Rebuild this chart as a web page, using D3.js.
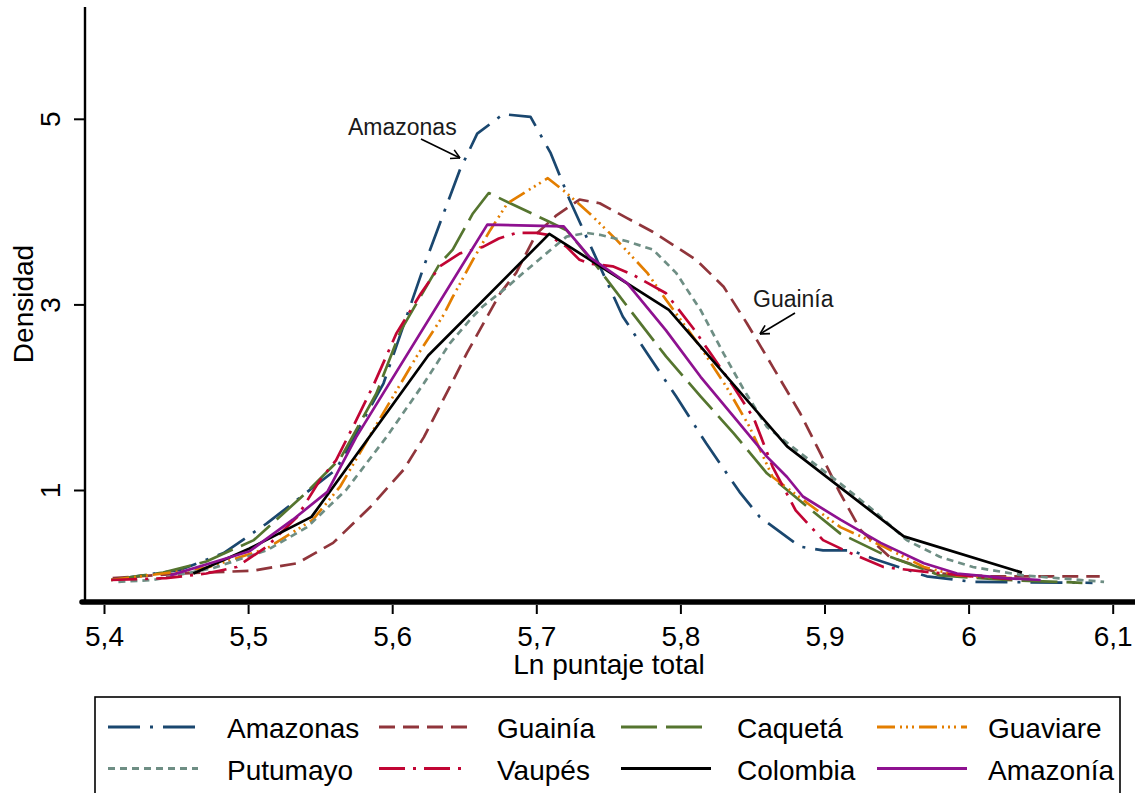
<!DOCTYPE html>
<html><head><meta charset="utf-8">
<script src="https://cdn.jsdelivr.net/npm/d3@7"></script>
<style>
body{margin:0;background:#fff}
svg{display:block}
text{font-family:"Liberation Sans",Arial,Helvetica,sans-serif}
</style>
</head><body>
<svg id="chart" width="1135" height="793"></svg>
<script>
// ---------- data ----------
const seriesNames = ["Amazonas","Guainía","Caquetá","Guaviare","Putumayo","Vaupés","Colombia","Amazonía"];
const xTickValues = [5.4,5.5,5.6,5.7,5.8,5.9,6.0,6.1];
const xTickLabels = ["5,4","5,5","5,6","5,7","5,8","5,9","6","6,1"];
const yTickValues = [1,3,5];
const yTickLabels = ["1","3","5"];

const amazonasX = [5.405,5.453,5.483,5.513,5.561,5.594,5.622,5.633,5.647,5.659,5.677,5.696,5.710,5.723,5.740,5.760,5.777,5.797,5.818,5.841,5.855,5.883,5.899,5.918,5.934,5.971,6.003,6.086];
const amazonasY = [0.03,0.14,0.32,0.64,1.22,2.15,3.41,3.87,4.45,4.84,5.05,5.02,4.63,4.13,3.55,2.87,2.47,2.01,1.50,0.98,0.71,0.39,0.35,0.35,0.26,0.07,0.01,0.0];

const guainiaX = [5.406,5.453,5.503,5.534,5.559,5.585,5.608,5.622,5.640,5.652,5.666,5.675,5.686,5.693,5.700,5.714,5.730,5.744,5.763,5.781,5.790,5.811,5.830,5.846,5.864,5.883,5.897,5.911,5.925,5.945,5.980,6.015,6.091];
const guainiaY = [0.05,0.10,0.13,0.21,0.43,0.82,1.22,1.57,2.11,2.48,2.87,3.12,3.34,3.55,3.76,3.96,4.13,4.09,3.93,3.78,3.69,3.48,3.19,2.80,2.33,1.83,1.40,0.96,0.57,0.28,0.10,0.07,0.07];

const caquetaX = [5.405,5.441,5.471,5.504,5.541,5.564,5.589,5.606,5.633,5.642,5.656,5.667,5.709,5.721,5.742,5.767,5.790,5.814,5.837,5.860,5.888,5.911,5.939,5.980,6.026,6.079];
const caquetaY = [0.03,0.11,0.23,0.46,0.98,1.34,2.04,2.72,3.44,3.59,3.98,4.20,3.89,3.80,3.41,2.90,2.44,2.01,1.61,1.18,0.82,0.53,0.32,0.08,0.03,0.0];

const guaviareX = [5.405,5.471,5.513,5.545,5.564,5.587,5.617,5.635,5.642,5.656,5.668,5.680,5.708,5.721,5.737,5.756,5.777,5.790,5.814,5.832,5.848,5.864,5.888,5.911,5.941,5.969,5.992,6.030];
const guaviareY = [0.03,0.16,0.37,0.68,1.04,1.65,2.44,2.87,3.08,3.48,3.80,4.09,4.36,4.20,3.98,3.69,3.34,3.05,2.54,2.11,1.68,1.14,0.86,0.60,0.39,0.17,0.08,0.05];

const putumayoX = [5.410,5.434,5.476,5.513,5.541,5.568,5.596,5.622,5.640,5.656,5.663,5.680,5.691,5.707,5.721,5.735,5.744,5.763,5.781,5.797,5.814,5.830,5.844,5.860,5.883,5.911,5.934,5.957,5.980,6.003,6.038,6.094];
const putumayoY = [0.01,0.03,0.16,0.35,0.60,1.00,1.57,2.15,2.58,2.87,2.98,3.19,3.34,3.55,3.73,3.77,3.75,3.68,3.59,3.34,2.94,2.47,2.08,1.68,1.40,1.07,0.78,0.46,0.28,0.17,0.08,0.01];

const vaupesX = [5.405,5.443,5.471,5.492,5.513,5.534,5.550,5.561,5.575,5.587,5.603,5.620,5.633,5.647,5.663,5.674,5.686,5.700,5.708,5.721,5.730,5.737,5.753,5.767,5.790,5.809,5.821,5.837,5.851,5.864,5.880,5.899,5.918,5.941,5.969,6.003,6.030];
const vaupesY = [0.03,0.05,0.10,0.17,0.39,0.71,1.11,1.32,1.75,2.13,2.69,3.12,3.41,3.55,3.62,3.71,3.77,3.77,3.75,3.62,3.48,3.44,3.41,3.32,3.12,2.74,2.47,2.11,1.77,1.25,0.78,0.46,0.32,0.17,0.12,0.07,0.04];

const colombiaX = [5.462,5.501,5.544,5.625,5.709,5.792,5.874,5.955,6.037];
const colombiaY = [0.10,0.37,0.71,2.45,3.76,2.94,1.47,0.50,0.11];

const amazoniaX = [5.446,5.480,5.501,5.531,5.555,5.575,5.666,5.719,5.737,5.763,5.790,5.814,5.837,5.860,5.874,5.885,5.911,5.939,5.969,5.992,6.026,6.050];
const amazoniaY = [0.08,0.24,0.34,0.68,0.98,1.57,3.86,3.84,3.51,3.23,2.72,2.22,1.79,1.36,1.14,0.93,0.68,0.43,0.21,0.10,0.05,0.03];

const annotationLabels = ["Amazonas","Guainía"];

// ---------- styles ----------
const seriesX = [amazonasX,guainiaX,caquetaX,guaviareX,putumayoX,vaupesX,colombiaX,amazoniaX];
const seriesY = [amazonasY,guainiaY,caquetaY,guaviareY,putumayoY,vaupesY,colombiaY,amazoniaY];
const colors = ["#1a476f","#90353b","#55752f","#e37e00","#6e8e84","#c10534","#000000","#8e1190"];
const dashes = ["32,10,3,10","16,8","36,9","18,5,2,4,2,4,2,5","7,5","26,8,3,8",null,null];

// ---------- layout ----------
const svg = d3.select("#chart");
const x = d3.scaleLinear().domain([5.4, 6.1]).range([104, 1112.7]);
const y = d3.scaleLinear().domain([0, 5]).range([582.8, 118.8]);
const FONT = 28;

// axis lines
svg.append("line").attr("x1",85).attr("x2",85).attr("y1",7).attr("y2",602)
  .attr("stroke","#000").attr("stroke-width",2.4);
svg.append("line").attr("x1",82).attr("x2",1140).attr("y1",602).attr("y2",602)
  .attr("stroke","#000").attr("stroke-width",5.5).attr("stroke-linecap","round");

// x axis
const gx = svg.append("g").attr("transform","translate(0,605)")
  .call(d3.axisBottom(x).tickValues(xTickValues).tickFormat((d,i)=>xTickLabels[i]).tickSize(9));
gx.select(".domain").remove();
gx.selectAll(".tick line").attr("stroke","#000").attr("stroke-width",2);
gx.selectAll(".tick text").attr("y",40.7).attr("dy",null)
  .attr("font-size",FONT).attr("fill","#000").attr("font-family",'"Liberation Sans",Arial,sans-serif');

// y axis
const gy = svg.append("g").attr("transform","translate(85,0)")
  .call(d3.axisLeft(y).tickValues(yTickValues).tickFormat((d,i)=>yTickLabels[i]).tickSize(11));
gy.select(".domain").remove();
gy.selectAll(".tick line").attr("stroke","#000").attr("stroke-width",2);
gy.selectAll(".tick text").attr("x",0).attr("dy",null).attr("text-anchor","middle")
  .attr("transform","translate(-25,0) rotate(-90)")
  .attr("font-size",FONT).attr("fill","#000").attr("font-family",'"Liberation Sans",Arial,sans-serif');

// axis titles
svg.append("text").attr("x",609).attr("y",674.3).attr("text-anchor","middle")
  .attr("font-size",FONT).text("Ln puntaje total");
svg.append("text").attr("transform","translate(33,304) rotate(-90)").attr("text-anchor","middle")
  .attr("font-size",FONT).text("Densidad");

// series
const line = d3.line().x(d=>x(d[0])).y(d=>y(d[1]));
seriesNames.forEach((name,i)=>{
  const pts = seriesX[i].map((v,j)=>[v, seriesY[i][j]]);
  svg.append("path").datum(pts).attr("d",line)
    .attr("fill","none").attr("stroke",colors[i]).attr("stroke-width",2.7)
    .attr("stroke-linejoin","round")
    .attr("stroke-dasharray",dashes[i]);
});

// annotations
function arrow(x1,y1,x2,y2){
  svg.append("line").attr("x1",x1).attr("y1",y1).attr("x2",x2).attr("y2",y2)
    .attr("stroke","#000").attr("stroke-width",1.6);
  const a = Math.atan2(y2-y1,x2-x1), L=10, s=0.5;
  [a+Math.PI-s, a+Math.PI+s].forEach(b=>{
    svg.append("line").attr("x1",x2).attr("y1",y2)
      .attr("x2",x2+L*Math.cos(b)).attr("y2",y2+L*Math.sin(b))
      .attr("stroke","#000").attr("stroke-width",1.6);
  });
}
svg.append("text").attr("x",348).attr("y",135).attr("font-size",23).attr("fill","#1a1a1a").text(annotationLabels[0]);
arrow(421,139,460,158);
svg.append("text").attr("x",753).attr("y",306.5).attr("font-size",23).attr("fill","#1a1a1a").text(annotationLabels[1]);
arrow(795,313,760,334);

// legend
svg.append("rect").attr("x",95).attr("y",697).attr("width",1025).attr("height",120)
  .attr("fill","#fff").attr("stroke","#000").attr("stroke-width",1.6);
const colSwatch = [108,379,621,877];
const colText = [227,497,737,988];
const rowY = [727,768.5];
seriesNames.forEach((name,i)=>{
  const c = i%4, r = Math.floor(i/4);
  svg.append("line").attr("x1",colSwatch[c]).attr("x2",colSwatch[c]+90)
    .attr("y1",rowY[r]).attr("y2",rowY[r])
    .attr("stroke",colors[i]).attr("stroke-width",2.8)
    .attr("stroke-dasharray",dashes[i]);
  svg.append("text").attr("x",colText[c]).attr("y",rowY[r]+11).attr("font-size",FONT)
    .attr("fill","#000").text(name);
});
</script>
</body></html>
